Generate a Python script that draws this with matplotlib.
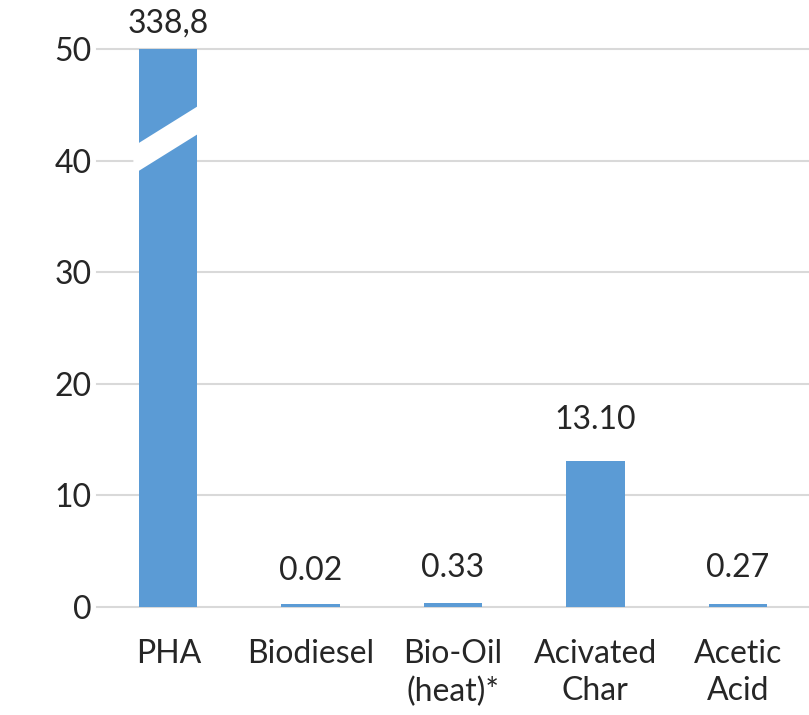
import matplotlib.pyplot as plt
from matplotlib.patches import Polygon

# chart data
categories = ['PHA', 'Biodiesel', 'Bio-Oil\n(heat)*', 'Acivated\nChar', 'Acetic\nAcid']
values = [338.8, 0.3, 0.33, 13.10, 0.27]
value_labels = ['338,8', '0.02', '0.33', '13.10', '0.27']

bar_color = '#5b9bd5'
grid_color = '#d9d9d9'
label_offsets = [8, 13, 15, 19, 15]

plt.rcParams['font.family'] = ['Lato', 'DejaVu Sans']

fig = plt.figure(figsize=(8.09, 7.15), dpi=100)
ax = fig.add_axes([0.12, 0.151, 0.88, 0.78])

x = list(range(len(categories)))
bars = ax.bar(x, values, width=0.41, color=bar_color, zorder=2)

ax.set_ylim(0, 50)
ax.set_xlim(-0.5, 4.5)
ax.set_yticks([0, 10, 20, 30, 40, 50])
ax.set_xticks(x)
ax.set_xticklabels(categories, linespacing=1.3)
ax.tick_params(axis='both', length=0, labelsize=23, colors='#262626')
ax.tick_params(axis='x', pad=23)
ax.tick_params(axis='y', pad=4)
for s in ax.spines.values():
    s.set_visible(False)
ax.grid(axis='y', color=grid_color, linewidth=1.5, zorder=0)
for gl in ax.get_ygridlines():
    gl.set_clip_on(False)

# value labels
for i, (v, lab) in enumerate(zip(values, value_labels)):
    top = min(v, 50)
    ax.annotate(lab, (i, top), xytext=(0, label_offsets[i]), textcoords='offset points',
                ha='center', va='bottom', fontsize=23, color='#262626')

# axis break on the PHA bar
hw = 0.41 / 2 + 0.04
brk = Polygon([(-hw, 41.3), (hw, 45.2), (hw, 42.7), (-hw, 38.8)],
              closed=True, facecolor='white', edgecolor='none', zorder=3)
ax.add_patch(brk)

fig.savefig('out.png', dpi=100)
